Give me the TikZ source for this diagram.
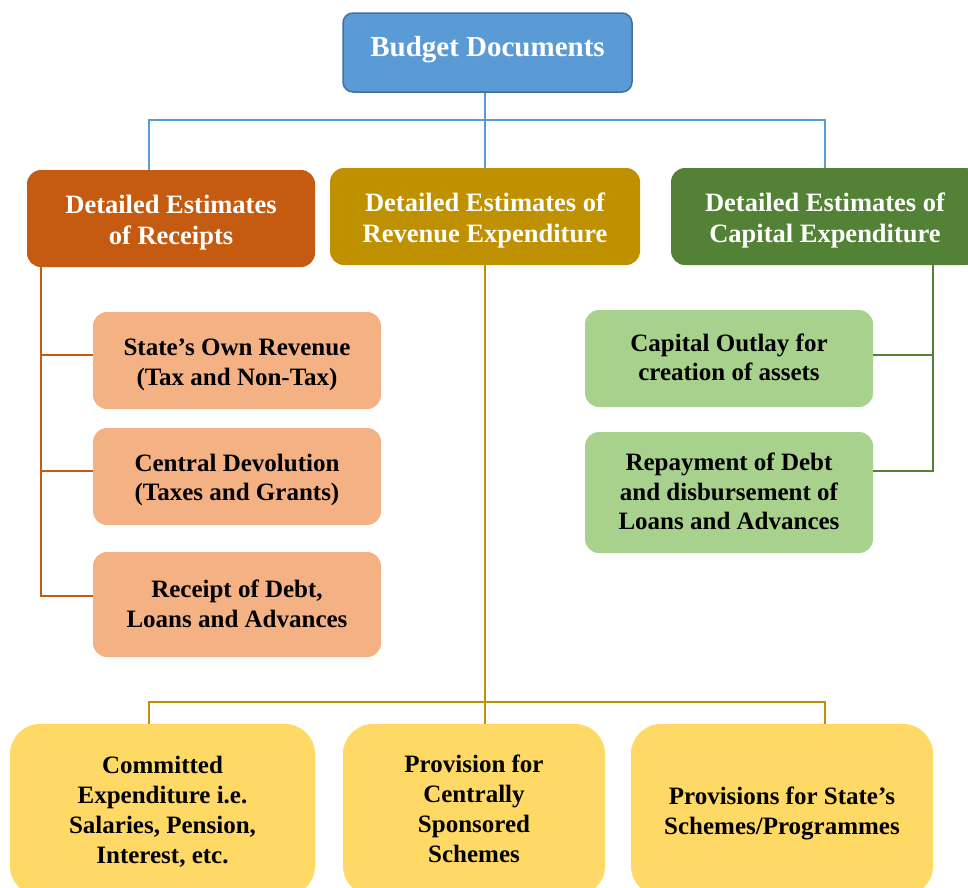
\documentclass[tikz,border=0pt]{standalone}
\usepackage{fontspec}
\setmainfont{Liberation Serif}
\usetikzlibrary{calc}
\definecolor{cBlue}{HTML}{5B9BD5}
\definecolor{cBlueDk}{HTML}{41719C}
\definecolor{cRec}{HTML}{C55A11}
\definecolor{cRev}{HTML}{BF9000}
\definecolor{cCap}{HTML}{538135}
\definecolor{cRecL}{HTML}{F4B183}
\definecolor{cCapL}{HTML}{A9D18E}
\definecolor{cRevL}{HTML}{FFD966}
\newcommand\mylines[2]{\raisebox{#1}[\height][\depth]{\begin{tabular}{@{}c@{}}#2\end{tabular}}}
\begin{document}
\begin{tikzpicture}[x=1pt,y=-1pt,
  basebox/.style={inner sep=0pt, font=\bfseries},
  topbox/.style={basebox, fill=cBlue, draw=cBlueDk, line width=1.5pt, rounded corners=10pt,
     minimum width=289pt, minimum height=79pt, text=white, font=\bfseries\fontsize{29}{34}\selectfont},
  headbox/.style={basebox, rounded corners=14pt, minimum height=97pt, text=white,
     font=\bfseries\fontsize{26.5}{31}\selectfont},
  subbox/.style={basebox, rounded corners=14pt, minimum width=288pt, text=black,
     font=\bfseries\fontsize{25}{29.5}\selectfont},
  lowbox/.style={basebox, rounded corners=30pt, minimum height=172pt, fill=cRevL, text=black,
     font=\bfseries\fontsize{25}{30}\selectfont},
  conn/.style={line width=2pt}]
\useasboundingbox (0,0) rectangle (968,887);

% top
\node[topbox] (top) at (487.5,52.5) {\raisebox{3pt}[\height][\depth]{Budget Documents}};

% level 1
\node[headbox, fill=cRec, minimum width=288pt] (rec) at (171,218.5) {\mylines{-4.5pt}{Detailed Estimates\\of Receipts}};
\node[headbox, fill=cRev, minimum width=310pt] (rev) at (485,216.5) {\mylines{-4.5pt}{Detailed Estimates of\\Revenue Expenditure}};
\node[headbox, fill=cCap, minimum width=308pt] (cap) at (825,216.5) {\mylines{-4.5pt}{Detailed Estimates of\\Capital Expenditure}};

% receipts children
\node[subbox, fill=cRecL, minimum height=97pt] (o1) at (237,360.5) {\mylines{-4pt}{State’s Own Revenue\\(Tax and Non-Tax)}};
\node[subbox, fill=cRecL, minimum height=97pt] (o2) at (237,476.5) {\mylines{-3.5pt}{Central Devolution\\(Taxes and Grants)}};
\node[subbox, fill=cRecL, minimum height=105pt] (o3) at (237,604.5) {\mylines{-2pt}{Receipt of Debt,\\Loans and Advances}};

% capital children
\node[subbox, fill=cCapL, minimum height=97pt] (g1) at (729,358.5) {\mylines{-1.5pt}{Capital Outlay for\\creation of assets}};
\node[subbox, fill=cCapL, minimum height=121pt] (g2) at (729,492.5) {\mylines{-2pt}{Repayment of Debt\\and disbursement of\\Loans and Advances}};

% revenue children
\node[lowbox, minimum width=305pt] (b1) at (162.5,810) {\mylines{-2.5pt}{Committed\\Expenditure i.e.\\Salaries, Pension,\\Interest, etc.}};
\node[lowbox, minimum width=262pt] (b2) at (474,810) {\mylines{-1pt}{Provision for\\Centrally\\Sponsored\\Schemes}};
\node[lowbox, minimum width=302pt] (b3) at (782,810) {\mylines{-3pt}{Provisions for State’s\\Schemes/Programmes}};

% blue connectors
\coordinate (jL) at (149,120);
\coordinate (jR) at (825,120);
\draw[conn, cBlue] (rev.north |- top.south) -- (rev.north);
\draw[conn, cBlue] (jL |- rec.north) -- (jL) -- (jR) -- (jR |- cap.north);

% receipts connectors
\coordinate (ox) at (41,0);
\coordinate (o1b) at ($(o1.west)+(0,-5.5)$);
\coordinate (o2b) at ($(o2.west)+(0,-5.5)$);
\coordinate (o3b) at ($(o3.west)+(0,-8.5)$);
\draw[conn, cRec] (rec.south -| ox) -- (o3b -| ox) -- (o3b);
\draw[conn, cRec] (o1b -| ox) -- (o1b);
\draw[conn, cRec] (o2b -| ox) -- (o2b);

% capital connectors
\coordinate (gx) at (933,0);
\coordinate (g1b) at ($(g1.east)+(0,-3.5)$);
\coordinate (g2b) at ($(g2.east)+(0,-21.5)$);
\draw[conn, cCap] (cap.south -| gx) -- (g2b -| gx) -- (g2b);
\draw[conn, cCap] (g1b -| gx) -- (g1b);

% revenue connectors
\coordinate (kM) at (485,702);
\coordinate (kL) at (149,702);
\coordinate (kR) at (825,702);
\draw[conn, cRev] (rev.south) -- (kM);
\draw[conn, cRev] (kL |- b1.north) -- (kL) -- (kR) -- (kR |- b3.north);
\draw[conn, cRev] (kM) -- (kM |- b2.north);
\end{tikzpicture}
\end{document}
